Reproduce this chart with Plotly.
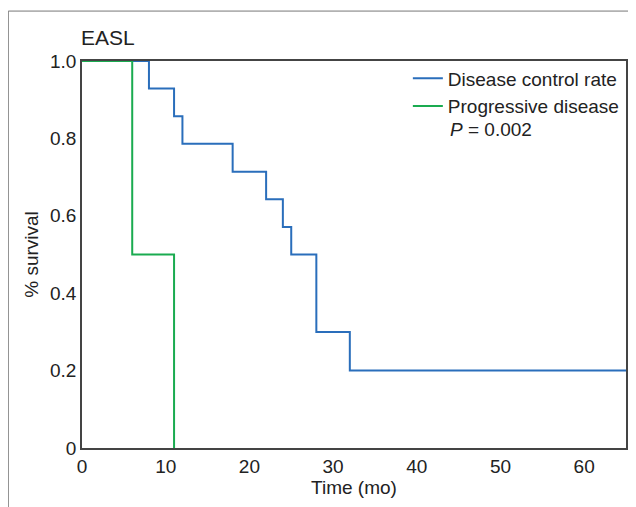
import plotly.graph_objects as go

# Kaplan-Meier step data (time in months, survival fraction)
dcr_time = [0, 8, 11, 12, 18, 22, 24, 25, 28, 32, 65]
dcr_surv = [1.0, 0.929, 0.857, 0.786, 0.714, 0.643, 0.571, 0.5, 0.3, 0.2, 0.2]
pd_time = [0, 6, 11]
pd_surv = [1.0, 0.5, 0.0]

x_ticks = [0, 10, 20, 30, 40, 50, 60]
y_ticks = [0, 0.2, 0.4, 0.6, 0.8, 1.0]
y_tick_labels = ["0", "0.2", "0.4", "0.6", "0.8", "1.0"]

BLUE = "#2a6ebb"
GREEN = "#1aab50"
AX = "#444444"
FONT = "Liberation Sans, Arial, sans-serif"

fig = go.Figure()
fig.add_trace(go.Scatter(x=dcr_time, y=dcr_surv, mode="lines", line_shape="hv",
                         line=dict(color=BLUE, width=2), name="Disease control rate"))
fig.add_trace(go.Scatter(x=pd_time + [pd_time[-1]], y=pd_surv[:-1] + [pd_surv[-2], pd_surv[-1]],
                         mode="lines", line_shape="hv",
                         line=dict(color=GREEN, width=2), name="Progressive disease"))

fig.update_layout(
    width=628, height=499,
    margin=dict(l=74, r=8, t=53, b=59),
    paper_bgcolor="white", plot_bgcolor="white",
    font=dict(family=FONT, size=19, color="#222222"),
    showlegend=True,
    legend=dict(x=0.599, xanchor="left", y=1.004, yanchor="top", bgcolor="rgba(0,0,0,0)",
                font=dict(size=19), tracegroupgap=0, itemwidth=30),
    xaxis=dict(range=[0, 65], tickvals=x_ticks, showgrid=False, zeroline=False,
               showline=True, linecolor=AX, linewidth=1.5, mirror=True, ticks="",
               title=dict(text="Time (mo)", standoff=0, font=dict(size=19)),
               tickfont=dict(size=19)),
    yaxis=dict(range=[0, 1], tickvals=y_ticks, ticktext=y_tick_labels, showgrid=False,
               zeroline=False, showline=True, linecolor=AX, linewidth=1.5, mirror=True,
               ticks="", title=dict(text="% survival", standoff=6, font=dict(size=19)),
               tickfont=dict(size=19)),
)

fig.add_annotation(text="EASL", xref="paper", yref="paper", x=0, y=1.0, yshift=10, xshift=-3,
                   xanchor="left", yanchor="bottom", showarrow=False, font=dict(size=21))
fig.add_annotation(text="<i>P</i> = 0.002", xref="paper", yref="paper", x=0.672, y=0.822,
                   xanchor="left", yanchor="middle", showarrow=False, font=dict(size=19))

# outer frame lines (top and left)
fig.add_shape(type="line", xref="paper", yref="paper", x0=-0.1355, x1=1.1, y0=1.129, y1=1.129,
              line=dict(color="#777777", width=1))
fig.add_shape(type="line", xref="paper", yref="paper", x0=-0.1355, x1=-0.1355, y0=1.129, y1=-0.2,
              line=dict(color="#777777", width=1))

fig.write_html("out.html")
